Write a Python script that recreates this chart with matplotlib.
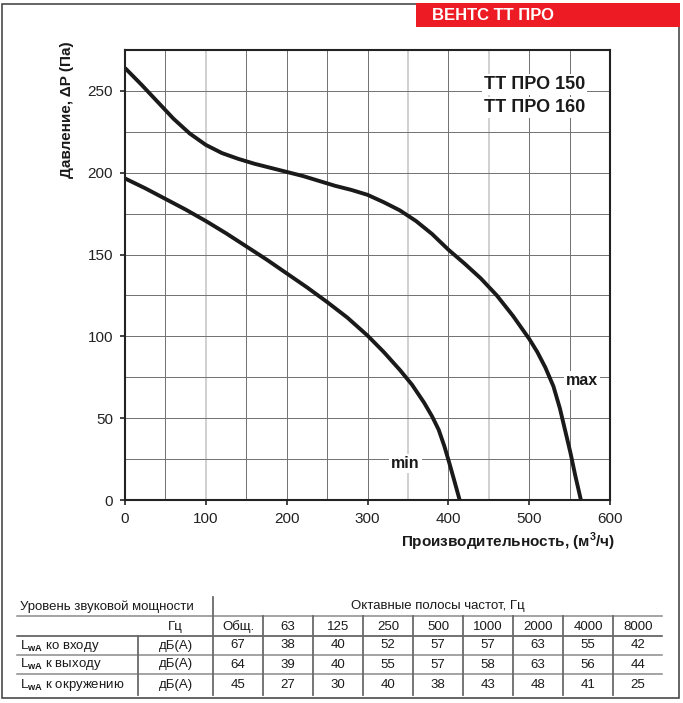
import matplotlib
matplotlib.use("Agg")
import matplotlib.pyplot as plt
from matplotlib.patches import Rectangle
from matplotlib.lines import Line2D

plt.rcParams['font.family'] = ['Liberation Sans', 'DejaVu Sans']
plt.rcParams['mathtext.fontset'] = 'custom'
plt.rcParams['mathtext.rm'] = 'Liberation Sans'
plt.rcParams['mathtext.bf'] = 'Liberation Sans:bold'

# ---------------- data ----------------
max_x = [0, 20, 40, 60, 80, 100, 120, 140, 160, 180, 200, 220, 240, 260, 280, 300,
         320, 340, 360, 380, 400, 420, 440, 460, 480, 500, 510, 520, 530, 538, 545,
         551, 557, 564]
max_y = [264, 254, 243.5, 233, 224, 217, 212, 208.5, 205.5, 203, 200.5, 198, 195, 192,
         189.5, 186.5, 182, 177, 170.5, 162.5, 153, 144.5, 135.5, 125, 112.5, 98.5,
         90.5, 81, 69.5, 56, 41.5, 29, 15, 0]

min_x = [0, 25, 50, 75, 100, 125, 150, 175, 200, 225, 250, 275, 300, 320, 340, 355,
         370, 380, 388, 395, 401, 407, 414]
min_y = [196.5, 190.5, 184, 177.5, 170.5, 163, 155, 147, 138.5, 130, 121, 111.5, 100.5,
         90.5, 79.5, 70.5, 59.5, 51, 43, 33, 23, 12.5, 0]

x_ticks = [0, 100, 200, 300, 400, 500, 600]
y_ticks = [0, 50, 100, 150, 200, 250]

freq_labels = ['Общ.', '63', '125', '250', '500', '1000', '2000', '4000', '8000']
row_labels = ['ко входу', 'к выходу', 'к окружению']
row_inlet = [67, 38, 40, 52, 57, 57, 63, 55, 42]
row_outlet = [64, 39, 40, 55, 57, 58, 63, 56, 44]
row_env = [45, 27, 30, 40, 38, 43, 48, 41, 25]
table_rows = [row_inlet, row_outlet, row_env]

W, H = 683, 703
fig = plt.figure(figsize=(W / 100, H / 100), dpi=100)

# background overlay in pixel coordinates
bg = fig.add_axes([0, 0, 1, 1], zorder=0)
bg.set_xlim(0, W)
bg.set_ylim(H, 0)
bg.axis('off')

bg.add_patch(Rectangle((2, 4), 677, 694, fill=False, edgecolor='#3a3a3a', lw=1.1))
bg.add_patch(Rectangle((416, 3), 264, 24, facecolor='#ED1C24', edgecolor='none'))
bg.text(432, 15.5, 'ВЕНТС ТТ ПРО', color='white', fontsize=12, fontweight='bold',
        ha='left', va='center')

# ---------------- main chart ----------------
ax = fig.add_axes([125 / W, 203 / H, 485 / W, 450 / H], zorder=1)
ax.set_xlim(0, 600)
ax.set_ylim(0, 275)

light = {100, 350, 450}
for gx in range(50, 600, 50):
    if gx in light:
        ax.axvline(gx, color='#c4c4c4', lw=1.1, zorder=1)
    else:
        ax.axvline(gx, color='#707070', lw=0.7, zorder=1)
for gy in range(25, 275, 25):
    ax.axhline(gy, color='#707070', lw=0.7, zorder=1)

ax.plot(max_x, max_y, color='#1a1a1a', lw=2.8, solid_capstyle='butt',
        solid_joinstyle='round', zorder=3)
ax.plot(min_x, min_y, color='#1a1a1a', lw=2.8, solid_capstyle='butt',
        solid_joinstyle='round', zorder=3)

for s in ax.spines.values():
    s.set_linewidth(1.5)
    s.set_color('#222222')
    s.set_zorder(4)

ax.set_xticks(x_ticks)
ax.set_yticks(y_ticks)
ax.tick_params(direction='out', length=3.5, width=1.2, color='#222222',
               labelsize=11, labelcolor='#222222', pad=5)

box = dict(facecolor='white', edgecolor='none', pad=1.5)
ax.text(565, 73, 'max', fontsize=11.5, fontweight='bold', ha='center', va='center',
        color='#1a1a1a', bbox=box, zorder=5)
ax.text(347, 22.5, 'min', fontsize=11.5, fontweight='bold', ha='center', va='center',
        color='#1a1a1a', bbox=box, zorder=5)
ax.text(444, 254, 'ТТ ПРО 150', fontsize=13, fontweight='bold', ha='left', va='center',
        color='#1a1a1a', bbox=box, zorder=5)
ax.text(444, 240, 'ТТ ПРО 160', fontsize=13, fontweight='bold', ha='left', va='center',
        color='#1a1a1a', bbox=box, zorder=5)

fig.text(67 / W, 1 - 110 / H, 'Давление, ΔP (Па)', rotation=90, fontsize=11,
         fontweight='bold', ha='center', va='center', color='#1a1a1a')
fig.text(508 / W, 1 - 542 / H, 'Производительность, (м$^\\mathbf{3}$/ч)', fontsize=11,
         fontweight='bold', ha='center', va='center', color='#1a1a1a')

# ---------------- table ----------------
tfs = 9.5
tx0, tx1 = 17, 662
col0 = 213
colw = 50
row_y = [606.5, 627, 645.5, 664.5, 685]
hlines = [(616, '#8a8a8a'), (636, '#4a4a4a'), (654.5, '#8a8a8a'), (673.5, '#8a8a8a')]
for yy, c in hlines:
    bg.add_line(Line2D([tx0, tx1], [yy, yy], color=c, lw=1.1))

bg.add_line(Line2D([col0, col0], [597, 695], color='#6a6a6a', lw=1.3))
bg.add_line(Line2D([138, 138], [636, 695], color='#6a6a6a', lw=1.3))
for i in range(1, len(freq_labels)):
    xx = col0 + i * colw
    bg.add_line(Line2D([xx, xx], [616, 695], color='#6a6a6a', lw=1.3))

tc = '#1a1a1a'
bg.text(20, row_y[0], 'Уровень звуковой мощности', fontsize=tfs, ha='left', va='center', color=tc)
bg.text((col0 + tx1) / 2, row_y[0], 'Октавные полосы частот, Гц', fontsize=tfs,
        ha='center', va='center', color=tc)
bg.text(175.5, row_y[1], 'Гц', fontsize=tfs, ha='center', va='center', color=tc)
for i, lab in enumerate(freq_labels):
    bg.text(col0 + colw * (i + 0.5), row_y[1], lab, fontsize=tfs, ha='center', va='center', color=tc)

for r, (lab, vals) in enumerate(zip(row_labels, table_rows)):
    yy = row_y[2 + r]
    bg.text(20, yy, 'L$_{\\mathbf{wA}}$ ' + lab, fontsize=tfs, ha='left', va='center', color=tc)
    bg.text(175.5, yy, 'дБ(А)', fontsize=tfs, ha='center', va='center', color=tc)
    for i, v in enumerate(vals):
        bg.text(col0 + colw * (i + 0.5), yy, str(v), fontsize=tfs, ha='center', va='center', color=tc)

fig.savefig('out.png', dpi=100)
